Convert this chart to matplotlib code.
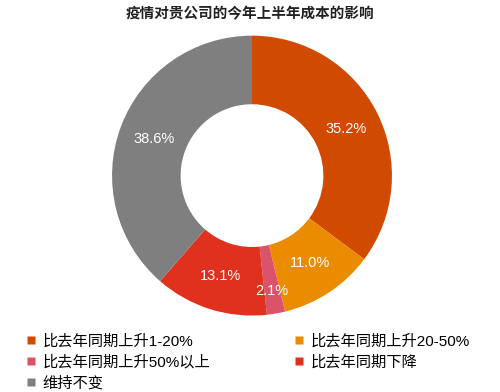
import matplotlib
matplotlib.use("Agg")
import matplotlib.pyplot as plt
from matplotlib.lines import Line2D

plt.rcParams['font.family'] = ['Liberation Sans', 'Noto Sans CJK SC', 'DejaVu Sans']

# --- data ---
title = "疫情对贵公司的今年上半年成本的影响"
categories = ["比去年同期上升1-20%", "比去年同期上升20-50%", "比去年同期上升50%以上",
              "比去年同期下降", "维持不变"]
shares = [35.2, 11.0, 2.1, 13.1, 38.6]
colors = ["#D04A02", "#EB8C00", "#DB536A", "#E0301E", "#7F7F7F"]

fig = plt.figure(figsize=(5.0, 3.92), dpi=100)
ax = fig.add_axes([0.224, 0.195, 0.56, 0.714])

wedges, texts, pcts = ax.pie(
    shares, colors=colors, startangle=90, counterclock=False,
    wedgeprops=dict(width=0.49, edgecolor='none'),
    autopct='%.1f%%', pctdistance=0.75,
    textprops=dict(color='white', fontsize=10.5))

# small slice label sits a bit further out
x, y = pcts[2].get_position()
pcts[2].set_position((x * 0.84 / 0.75, y * 0.84 / 0.75))

ax.set_xlim(-1, 1)
ax.set_ylim(-1, 1)

fig.text(0.5, 0.963, title, ha='center', va='center', fontsize=10.5,
         fontweight='bold', color='#222222')

# legend filled row by row: reorder for matplotlib's column-major layout
handles = [Line2D([], [], marker='s', linestyle='none', markersize=6,
                  markerfacecolor=c, markeredgecolor='none') for c in colors]
order = [0, 2, 4, 1, 3]
fig.legend([handles[i] for i in order], [categories[i] for i in order],
           ncol=2, loc='upper left', bbox_to_anchor=(0.052, 0.148),
           frameon=False, fontsize=11, handlelength=0.7, handletextpad=0.4,
           columnspacing=5.45, labelspacing=0.42, borderaxespad=0,
           borderpad=0)

fig.savefig("out.png", dpi=100, facecolor='white')
